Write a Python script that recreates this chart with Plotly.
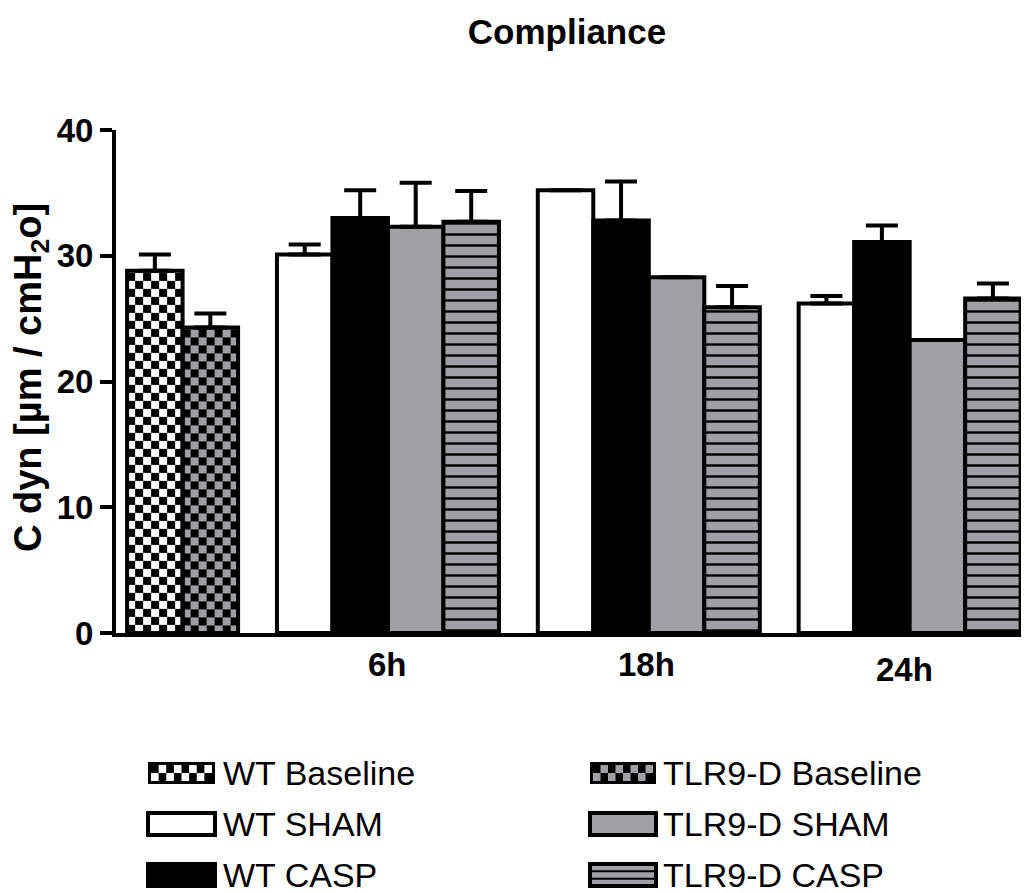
import plotly.graph_objects as go
import numpy as np

# ---------------- data ----------------
groups = ["Baseline", "6h", "18h", "24h"]
x_labels = ["6h", "18h", "24h"]

baseline_names = ["WT Baseline", "TLR9-D Baseline"]
baseline_vals = [28.8, 24.3]
baseline_err = [1.3, 1.1]

series_names = ["WT SHAM", "WT CASP", "TLR9-D SHAM", "TLR9-D CASP"]
# values per time point (6h, 18h, 24h)
wt_sham = [30.1, 35.2, 26.2]
wt_sham_err = [0.8, None, 0.6]
wt_casp = [33.0, 32.8, 31.1]
wt_casp_err = [2.2, 3.1, 1.3]
tlr_sham = [32.3, 28.3, 23.3]
tlr_sham_err = [3.5, None, None]
tlr_casp = [32.7, 25.9, 26.6]
tlr_casp_err = [2.45, 1.7, 1.2]

y_ticks = [0, 10, 20, 30, 40]

# ---------------- layout constants ----------------
OFF = 8  # page body margin offset (screen px -> figure px)
W, H = 1029 - OFF, 893 - OFF
ML = 116 - OFF
MT = 130 - OFF
MB = H - (633 - OFF)
MR = W - (1026 - OFF)
PW = W - ML - MR
PH = H - MT - MB
SLOT_PX = 55.5
XMAX = PW / SLOT_PX
GRAY = "#A0A0A4"
FONT = "Liberation Sans, Arial, sans-serif"

group_start = [0.2, 2.9, 7.6, 12.3]  # left edge of each group, in bar-slot units


def px2x(px):
    """screen px -> paper x"""
    return (px - OFF - ML) / PW


def px2y(py):
    """screen px -> paper y"""
    return (H - MB - (py - OFF)) / PH


fig = go.Figure()

# ---- baseline bars: checkerboard fill via heatmaps, outlines via bars ----
cell_h = 8 / (PH / 40.0)
checker_colors = [[[0, "black"], [1, "white"]], [[0, "black"], [1, GRAY]]]
for i, (name, v, e) in enumerate(zip(baseline_names, baseline_vals, baseline_err)):
    x0 = group_start[0] + i
    nx = 7
    xe = np.linspace(x0, x0 + 1, nx + 1)
    ye = list(np.arange(0, v, cell_h)) + [v]
    ny = len(ye) - 1
    z = [[(r + c + i) % 2 for c in range(nx)] for r in range(ny)]
    fig.add_trace(go.Heatmap(x=xe, y=ye, z=z, colorscale=checker_colors[i], zmin=0, zmax=1,
                             showscale=False, hoverinfo="skip"))
    fig.add_trace(go.Bar(x=[x0 + 0.5], y=[v], width=1.0, name=name, showlegend=False,
                         marker=dict(color="rgba(0,0,0,0)", line=dict(color="black", width=4)),
                         error_y=dict(type="data", symmetric=False, array=[e], arrayminus=[0],
                                      color="black", thickness=4, width=16)))

# ---- time point bars ----
series = [
    (series_names[0], wt_sham, wt_sham_err, dict(color="white")),
    (series_names[1], wt_casp, wt_casp_err, dict(color="black")),
    (series_names[2], tlr_sham, tlr_sham_err, dict(color=GRAY)),
    (series_names[3], tlr_casp, tlr_casp_err,
     dict(color=GRAY, pattern=dict(shape="-", fgcolor="black", bgcolor=GRAY, size=11,
                                   solidity=0.22, fillmode="replace"))),
]
for k, (name, vals, errs, mk) in enumerate(series):
    xs = [group_start[g + 1] + k + 0.5 for g in range(len(vals))]
    mk = dict(mk)
    mk["line"] = dict(color="black", width=4)
    fig.add_trace(go.Bar(x=xs, y=vals, width=1.0, name=name, showlegend=False, marker=mk,
                         error_y=dict(type="data", symmetric=False,
                                      array=[np.nan if e is None else e for e in errs],
                                      arrayminus=[0] * len(vals),
                                      color="black", thickness=4, width=16)))

# ---- x labels ----
annotations = []
label_dy = [0, 0, 5]
for g, lab in enumerate(x_labels):
    annotations.append(dict(x=group_start[g + 1] + 2 - 0.05 * g, xref="x",
                            y=px2y(664 + label_dy[g]), yref="paper",
                            text=f"<b>{lab}</b>", showarrow=False,
                            font=dict(size=33, family=FONT, color="black"),
                            xanchor="center", yanchor="middle"))

# y-axis title
annotations.append(dict(x=px2x(31), xref="paper", y=px2y(378), yref="paper",
                        text="<b>C dyn [µm / cmH<sub>2</sub>o]</b>", textangle=-90,
                        showarrow=False, font=dict(size=38, family=FONT, color="black"),
                        xanchor="center", yanchor="middle"))

# ---- legend (manual) ----
shapes = []
rows_y = [773, 824, 875]
cols = [(148, 215, 221), (590, 656, 661)]
legend_items = [
    (0, 0, baseline_names[0], "checker_w"),
    (1, 0, baseline_names[1], "checker_g"),
    (0, 1, series_names[0], "white"),
    (1, 1, series_names[2], "gray"),
    (0, 2, series_names[1], "black"),
    (1, 2, series_names[3], "stripes"),
]
SH = 11
for c, r, name, kind in legend_items:
    x0, x1, tx = cols[c]
    yc = rows_y[r]
    y0, y1 = yc - SH, yc + SH
    rect = dict(type="rect", xref="paper", yref="paper",
                x0=px2x(x0), x1=px2x(x1), y0=px2y(y1), y1=px2y(y0), layer="above")
    if kind in ("checker_w", "checker_g"):
        shapes.append(dict(rect, fillcolor="black", line=dict(width=0)))
        sq = "white" if kind == "checker_w" else GRAY
        ix0, ix1, iy0, iy1 = x0 + 3, x1 - 3, y0 + 3, y1 - 3
        ncol, nrow = 8, 2
        cw = (ix1 - ix0) / ncol
        ch = (iy1 - iy0) / nrow
        for rr in range(nrow):
            for cc in range(ncol):
                if (rr + cc) % 2 == 1:
                    shapes.append(dict(type="rect", xref="paper", yref="paper",
                                       x0=px2x(ix0 + cc * cw), x1=px2x(ix0 + (cc + 1) * cw),
                                       y0=px2y(iy0 + (rr + 1) * ch), y1=px2y(iy0 + rr * ch),
                                       fillcolor=sq, line=dict(width=0), layer="above"))
    elif kind == "white":
        shapes.append(dict(rect, fillcolor="white", line=dict(color="black", width=4)))
    elif kind == "black":
        shapes.append(dict(rect, fillcolor="black", line=dict(color="black", width=4)))
    elif kind == "gray":
        shapes.append(dict(rect, fillcolor=GRAY, line=dict(color="black", width=4)))
    elif kind == "stripes":
        shapes.append(dict(rect, fillcolor=GRAY, line=dict(color="black", width=4)))
        for f in (1 / 3, 2 / 3):
            yy = y0 + f * (y1 - y0)
            shapes.append(dict(type="line", xref="paper", yref="paper",
                               x0=px2x(x0), x1=px2x(x1), y0=px2y(yy), y1=px2y(yy),
                               line=dict(color="black", width=2), layer="above"))
    annotations.append(dict(x=px2x(tx), xref="paper", y=px2y(yc), yref="paper",
                            text=name, showarrow=False, xanchor="left", yanchor="middle",
                            font=dict(size=34, family=FONT, color="black")))

fig.update_layout(
    width=W, height=H,
    margin=dict(l=ML, r=MR, t=MT, b=MB),
    paper_bgcolor="white", plot_bgcolor="white",
    barmode="overlay",
    showlegend=False,
    title=dict(text="<b>Compliance</b>", x=(567 - OFF) / W, xref="container", xanchor="center",
               y=1 - (32 - OFF) / H, yref="container", yanchor="middle",
               font=dict(size=35, family=FONT, color="black")),
    xaxis=dict(range=[0, XMAX], showgrid=False, zeroline=False, showticklabels=False,
               ticks="", showline=True, linecolor="black", linewidth=4, fixedrange=True),
    yaxis=dict(range=[0, 40], tickvals=y_ticks, ticks="outside", ticklen=12, tickwidth=4,
               tickcolor="black", showgrid=False, zeroline=False, showline=True,
               linecolor="black", linewidth=4,
               tickfont=dict(size=33, family=FONT, color="black", weight="bold")),
    annotations=annotations,
    shapes=shapes,
)

fig.write_html("out.html")
